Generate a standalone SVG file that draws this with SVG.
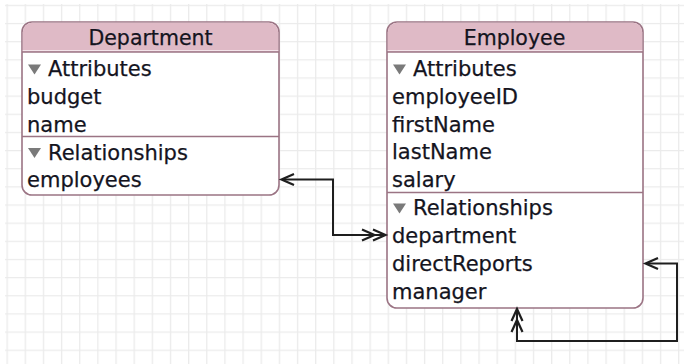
<svg xmlns="http://www.w3.org/2000/svg" width="684" height="364" viewBox="0 0 684 364">
  <defs>
    <pattern id="grid" x="6.5" y="4.8" width="18.15" height="18.15" patternUnits="userSpaceOnUse">
      <path d="M0.5 0V18.15M0 0.5H18.15" stroke="#ebebeb" stroke-width="1.6" fill="none"/>
    </pattern>
    <style>
      .box { fill: #ffffff; stroke: #9b7484; stroke-width: 1.6; }
      .head { fill: #dfbac6; }
      .shine { stroke: #f4e4ea; stroke-width: 1.2; }
      .rule { stroke: #9b7484; stroke-width: 1.4; }
      .title { font-family: "DejaVu Sans", "Liberation Sans", sans-serif; font-size: 20.5px; fill: #14141e; stroke: #14141e; stroke-width: 0.25; text-anchor: middle; }
      .row { font-family: "DejaVu Sans", "Liberation Sans", sans-serif; font-size: 21px; fill: #14141e; stroke: #14141e; stroke-width: 0.25; }
      .tri { fill: #7a7a7a; }
      .edge { fill: none; stroke: #1e1e1e; stroke-width: 2; }
      .head-arrow { fill: none; stroke: #1e1e1e; stroke-width: 2.2; stroke-linejoin: miter; }
    </style>
  </defs>

  <!-- canvas grid -->
  <rect width="684" height="364" fill="#ffffff"/>
  <rect x="5" y="4" width="679" height="360" fill="url(#grid)"/>

  <!-- Department entity -->
  <g id="department">
    <rect class="box" x="22" y="22" width="257" height="173" rx="10"/>
    <path class="head" d="M22.8 52V32A9.2 9.2 0 0 1 32 22.8H269A9.2 9.2 0 0 1 278.2 32V52Z"/>
    <line class="shine" x1="22.8" y1="50.6" x2="278.2" y2="50.6"/>
    <line class="rule" x1="22" y1="52" x2="279" y2="52"/>
    <line class="rule" x1="22" y1="136.5" x2="279" y2="136.5"/>
    <text class="title" x="150.5" y="44.5">Department</text>
    <polygon class="tri" points="28,64.5 41,64.5 34.5,74.5"/>
    <text class="row" x="48" y="76">Attributes</text>
    <text class="row" x="27" y="104">budget</text>
    <text class="row" x="27" y="131.5">name</text>
    <polygon class="tri" points="28,148 41,148 34.5,158"/>
    <text class="row" x="48" y="159.5">Relationships</text>
    <text class="row" x="27" y="187">employees</text>
  </g>

  <!-- Employee entity -->
  <g id="employee">
    <rect class="box" x="387" y="22" width="256" height="286" rx="10"/>
    <path class="head" d="M387.8 52V32A9.2 9.2 0 0 1 397 22.8H633A9.2 9.2 0 0 1 642.2 32V52Z"/>
    <line class="shine" x1="387.8" y1="50.6" x2="642.2" y2="50.6"/>
    <line class="rule" x1="387" y1="52" x2="643" y2="52"/>
    <line class="rule" x1="387" y1="192.5" x2="643" y2="192.5"/>
    <text class="title" x="514.5" y="44.5">Employee</text>
    <polygon class="tri" points="393,64.5 406,64.5 399.5,74.5"/>
    <text class="row" x="413" y="76">Attributes</text>
    <text class="row" x="392" y="104">employeeID</text>
    <text class="row" x="392" y="131.5">firstName</text>
    <text class="row" x="392" y="159">lastName</text>
    <text class="row" x="392" y="187">salary</text>
    <polygon class="tri" points="393,203.5 406,203.5 399.5,213.5"/>
    <text class="row" x="413" y="215">Relationships</text>
    <text class="row" x="392" y="243">department</text>
    <text class="row" x="392" y="270.5">directReports</text>
    <text class="row" x="392" y="298.5">manager</text>
  </g>

  <!-- relationship connectors -->
  <g id="connectors">
    <!-- Department.employees <->> Employee.department -->
    <path class="edge" d="M282 179.5H333V235H384"/>
    <path class="head-arrow" d="M294 174L281.5 179.5L294 185"/>
    <path class="head-arrow" d="M373 229.5L385.5 235L373 240.5M362 229.5L374.5 235L362 240.5"/>
    <!-- Employee.directReports <->> Employee.manager -->
    <path class="edge" d="M646 263.5H677V341H517V311"/>
    <path class="head-arrow" d="M658 258L645.5 263.5L658 269"/>
    <path class="head-arrow" d="M511.5 321L517 309L522.5 321M511.5 332L517 320L522.5 332"/>
  </g>
</svg>
